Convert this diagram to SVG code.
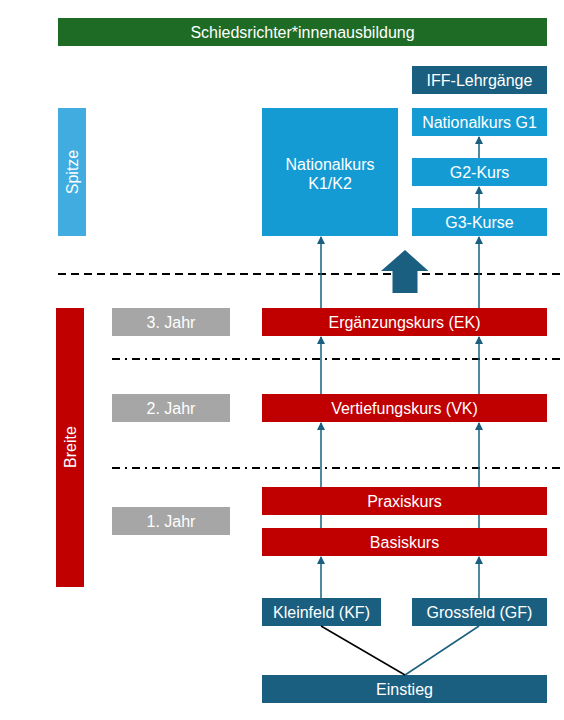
<svg xmlns="http://www.w3.org/2000/svg" width="564" height="720" viewBox="0 0 564 720">
<defs>
<style>
text{font-family:"Liberation Sans",Arial,sans-serif;font-size:16px;fill:#fff;text-anchor:middle;dominant-baseline:central}
.green{fill:#1e6b25}.teal{fill:#1b5f80}.blue{fill:#149bd4}.lblue{fill:#40acdf}.red{fill:#c00000}.gray{fill:#a6a6a6}
.conn{stroke:#1b5f80;stroke-width:1.5;fill:none}
.dash{stroke:#000;stroke-width:2;stroke-dasharray:8 5;fill:none}
.dashdot{stroke:#000;stroke-width:2;stroke-dasharray:8 5 2 5;fill:none}
</style>
<marker id="ah" markerWidth="8" markerHeight="8" refX="7" refY="4" orient="auto" markerUnits="userSpaceOnUse">
<path d="M0,0 L8,4 L0,8 z" fill="#1b5f80"/>
</marker>
</defs>
<rect width="564" height="720" fill="#fff"/>
<g id="separators">
<line class="dash" x1="58" y1="274" x2="564" y2="274"/>
<line class="dashdot" x1="112" y1="359" x2="564" y2="359"/>
<line class="dashdot" x1="112" y1="468" x2="564" y2="468"/>
</g>
<g id="title"><rect class="green" x="58" y="18" width="489" height="28"/><text x="302.5" y="32">Schiedsrichter*innenausbildung</text></g>
<g id="spitze"><rect class="lblue" x="58" y="108" width="28" height="128"/><text x="72" y="172" transform="rotate(-90 72 172)">Spitze</text></g>
<g id="breite"><rect class="red" x="56" y="308" width="28" height="279"/><text x="70" y="447" transform="rotate(-90 70 447)">Breite</text></g>
<g id="jahr3"><rect class="gray" x="112" y="308" width="118" height="28"/><text x="171" y="322">3. Jahr</text></g>
<g id="jahr2"><rect class="gray" x="112" y="394" width="118" height="28"/><text x="171" y="408">2. Jahr</text></g>
<g id="jahr1"><rect class="gray" x="112" y="507" width="118" height="28"/><text x="171" y="521">1. Jahr</text></g>
<g id="iff"><rect class="teal" x="412" y="66" width="135" height="28"/><text x="479.5" y="80">IFF-Lehrgänge</text></g>
<g id="k1k2"><rect class="blue" x="262" y="108" width="136" height="128"/><text x="330" y="164">Nationalkurs</text><text x="330" y="183">K1/K2</text></g>
<g id="g1"><rect class="blue" x="412" y="108" width="135" height="28"/><text x="479.5" y="122">Nationalkurs G1</text></g>
<g id="g2"><rect class="blue" x="412" y="158" width="135" height="28"/><text x="479.5" y="172">G2-Kurs</text></g>
<g id="g3"><rect class="blue" x="412" y="208" width="135" height="28"/><text x="479.5" y="222">G3-Kurse</text></g>
<g id="ek"><rect class="red" x="262" y="308" width="285" height="28"/><text x="404.5" y="322">Ergänzungskurs (EK)</text></g>
<g id="vk"><rect class="red" x="262" y="394" width="285" height="28"/><text x="404.5" y="408">Vertiefungskurs (VK)</text></g>
<g id="praxis"><rect class="red" x="262" y="487" width="285" height="28"/><text x="404.5" y="501">Praxiskurs</text></g>
<g id="basis"><rect class="red" x="262" y="528" width="285" height="28"/><text x="404.5" y="542">Basiskurs</text></g>
<g id="kf"><rect class="teal" x="262" y="598" width="119" height="28"/><text x="321.5" y="612">Kleinfeld (KF)</text></g>
<g id="gf"><rect class="teal" x="412" y="598" width="135" height="28"/><text x="479.5" y="612">Grossfeld (GF)</text></g>
<g id="einstieg"><rect class="teal" x="262" y="675" width="285" height="28"/><text x="404.5" y="689">Einstieg</text></g>
<g id="bigarrow"><path class="teal" d="M405,250 L428.5,271 L417.5,271 L417.5,293 L392.5,293 L392.5,271 L381,271 Z"/></g>
<g id="connectors">
<line class="conn" x1="321" y1="308" x2="321" y2="237" marker-end="url(#ah)"/>
<line class="conn" x1="479" y1="308" x2="479" y2="237" marker-end="url(#ah)"/>
<line class="conn" x1="479" y1="208" x2="479" y2="187" marker-end="url(#ah)"/>
<line class="conn" x1="479" y1="158" x2="479" y2="137" marker-end="url(#ah)"/>
<line class="conn" x1="321" y1="394" x2="321" y2="337" marker-end="url(#ah)"/>
<line class="conn" x1="479" y1="394" x2="479" y2="337" marker-end="url(#ah)"/>
<line class="conn" x1="321" y1="487" x2="321" y2="423" marker-end="url(#ah)"/>
<line class="conn" x1="479" y1="487" x2="479" y2="423" marker-end="url(#ah)"/>
<line class="conn" x1="321" y1="528" x2="321" y2="515"/>
<line class="conn" x1="479" y1="528" x2="479" y2="515"/>
<line class="conn" x1="321" y1="598" x2="321" y2="557" marker-end="url(#ah)"/>
<line class="conn" x1="479" y1="598" x2="479" y2="557" marker-end="url(#ah)"/>
<line x1="321" y1="626" x2="405" y2="675" stroke="#000" stroke-width="1.5"/>
<line class="conn" x1="479" y1="626" x2="405" y2="675"/>
</g>
</svg>
